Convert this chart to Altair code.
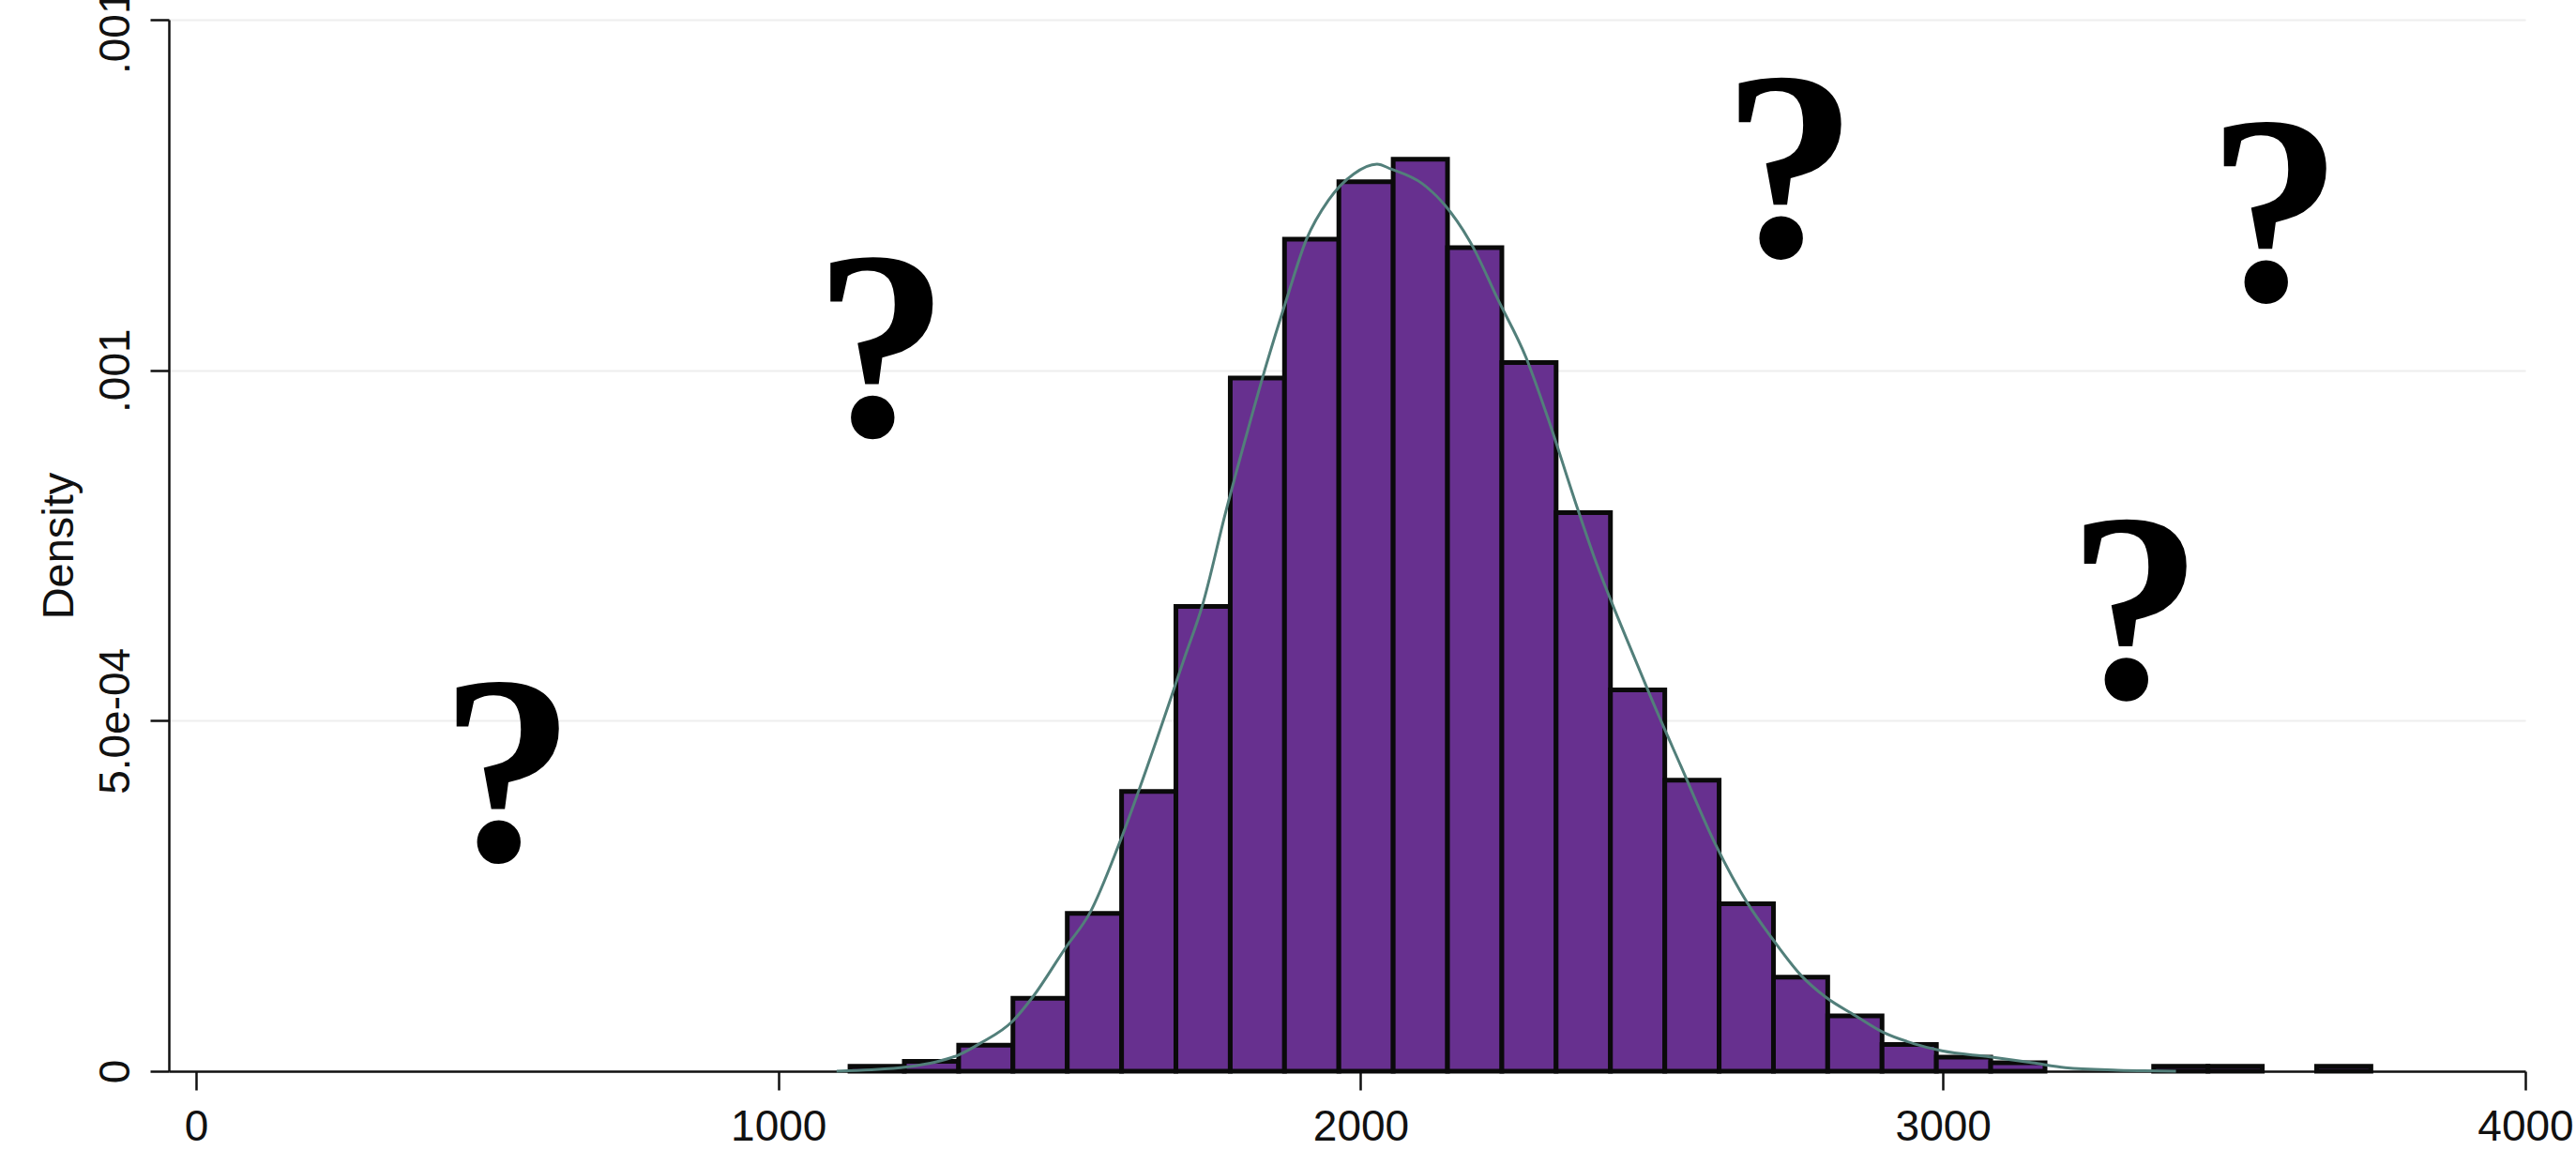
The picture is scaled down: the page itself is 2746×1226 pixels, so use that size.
import altair as alt
import pandas as pd

# Histogram bins: lower edges, upper edges and density of each bin
bin_lo = [1123.0, 1216.3, 1309.6, 1402.8, 1496.1, 1589.4, 1682.7, 1776.0, 1869.2, 1962.5,
          2055.8, 2149.1, 2242.4, 2335.6, 2428.9, 2522.2, 2615.5, 2708.8, 2802.0, 2895.3,
          2988.6, 3081.9, 3175.2, 3268.4, 3361.7, 3455.0, 3548.3, 3641.6]
bin_hi = [1216.3, 1309.6, 1402.8, 1496.1, 1589.4, 1682.7, 1776.0, 1869.2, 1962.5, 2055.8,
          2149.1, 2242.4, 2335.6, 2428.9, 2522.2, 2615.5, 2708.8, 2802.0, 2895.3, 2988.6,
          3081.9, 3175.2, 3268.4, 3361.7, 3455.0, 3548.3, 3641.6, 3734.8]
density = [0.000007, 0.000014, 0.000037, 0.000104, 0.000225, 0.000399, 0.000663, 0.000989,
           0.001187, 0.001269, 0.001301, 0.001175, 0.001011, 0.000797, 0.000544, 0.000415,
           0.000239, 0.000134, 0.000079, 0.000038, 0.000020, 0.000012, 0.0, 0.0,
           0.000007, 0.000007, 0.0, 0.000007]

# Kernel density estimate
kd_x = [1100, 1160, 1220, 1270, 1309, 1347, 1403, 1437, 1494, 1535, 1585, 1640, 1698,
        1728, 1768, 1806, 1838, 1873, 1907, 1945, 1988, 2028, 2052, 2106, 2144, 2192,
        2235, 2284, 2321, 2369, 2402, 2455, 2500, 2550, 2609, 2664, 2706, 2757, 2798,
        2850, 2896, 2951, 2998, 3081, 3154, 3210, 3300, 3400]
kd_y = [0.0, 0.000002, 0.000006, 0.000013, 0.000023, 0.000040, 0.000072, 0.000106,
        0.000177, 0.000226, 0.000324, 0.000450, 0.000591, 0.000664, 0.000797, 0.000914,
        0.001008, 0.001102, 0.001187, 0.001243, 0.001280, 0.001294, 0.001287, 0.001266,
        0.001236, 0.001177, 0.001102, 0.001018, 0.000933, 0.000811, 0.000731, 0.000620,
        0.000530, 0.000435, 0.000324, 0.000240, 0.000190, 0.000136, 0.000106, 0.000079,
        0.000056, 0.000039, 0.000029, 0.0000205, 0.000012, 0.000005, 0.0000015, 0.0]

# Question-mark annotations
q_x = [535, 1177, 2737, 3570, 3330]
q_y = [0.000301, 0.000907, 0.001163, 0.001100, 0.000533]
q_text = ["?", "?", "?", "?", "?"]

x_ticks = [0, 1000, 2000, 3000, 4000]
y_ticks = [0, 0.0005, 0.001, 0.0015]
y_tick_labels = ["0", "5.0e-04", ".001", ".0015"]

bars = pd.DataFrame({"x": bin_lo, "x2": bin_hi, "y": density})
bars = bars[bars["y"] > 0]
curve = pd.DataFrame({"x": kd_x, "y": kd_y})
marks = pd.DataFrame({"x": q_x, "y": q_y, "t": q_text})

label_expr = ""
for v, lab in zip(y_ticks, y_tick_labels):
    label_expr += f"abs(datum.value - {v}) < 1e-9 ? '{lab}' : "
label_expr += "''"

FONT = "Liberation Sans"
INK = "#111111"

x_scale = alt.Scale(domain=[-46.7, 4000], nice=False, zero=False)
y_scale = alt.Scale(domain=[0, 0.0015], nice=False, zero=True)

x_axis = alt.Axis(
    values=x_ticks, format="d", title=None, grid=False,
    labelFont=FONT, labelFontSize=46, labelColor=INK, labelFlush=False,
    labelBaseline="alphabetic", labelPadding=53, labelOverlap=False,
    tickSize=20, tickWidth=2.5, tickColor=INK,
    domainColor=INK, domainWidth=2.5,
)
y_axis = alt.Axis(
    values=y_ticks, labelExpr=label_expr, title="Density",
    labelFont=FONT, labelFontSize=46, labelColor=INK, labelAngle=270,
    labelAlign="center", labelBaseline="alphabetic", labelPadding=23,
    labelOverlap=False, labelFlush=False,
    tickSize=20, tickWidth=2.5, tickColor=INK,
    domainColor=INK, domainWidth=2.5,
    grid=True, gridColor="#eeeeee", gridWidth=2,
    titleFont=FONT, titleFontSize=47, titleFontWeight="normal", titleColor=INK,
    titleAngle=270, titleAlign="center", titleBaseline="alphabetic",
    titleX=-103, titleY=560.5,
)

hist = alt.Chart(bars).mark_rect(
    fill="#67308f", stroke="#0a0a0a", strokeWidth=5
).encode(
    x=alt.X("x:Q", scale=x_scale, axis=x_axis),
    x2="x2:Q",
    y=alt.Y("y:Q", scale=y_scale, axis=y_axis),
    y2=alt.datum(0),
)

kde = alt.Chart(curve).mark_line(
    color="#527f7a", strokeWidth=3, interpolate="monotone"
).encode(
    x="x:Q",
    y="y:Q",
)

qmarks = alt.Chart(marks).mark_text(
    font="Liberation Serif", fontWeight="bold", fontSize=287,
    align="center", baseline="alphabetic", color="black"
).encode(
    x="x:Q",
    y="y:Q",
    text="t:N",
)

chart = alt.layer(hist, kde, qmarks).properties(
    width=2512,
    height=1121,
    autosize="none",
    padding={"left": 180, "top": 21, "right": 54, "bottom": 84},
    background="white",
).configure_view(strokeWidth=0)

chart.save("out.html", embed_options={"renderer": "svg", "actions": False})
